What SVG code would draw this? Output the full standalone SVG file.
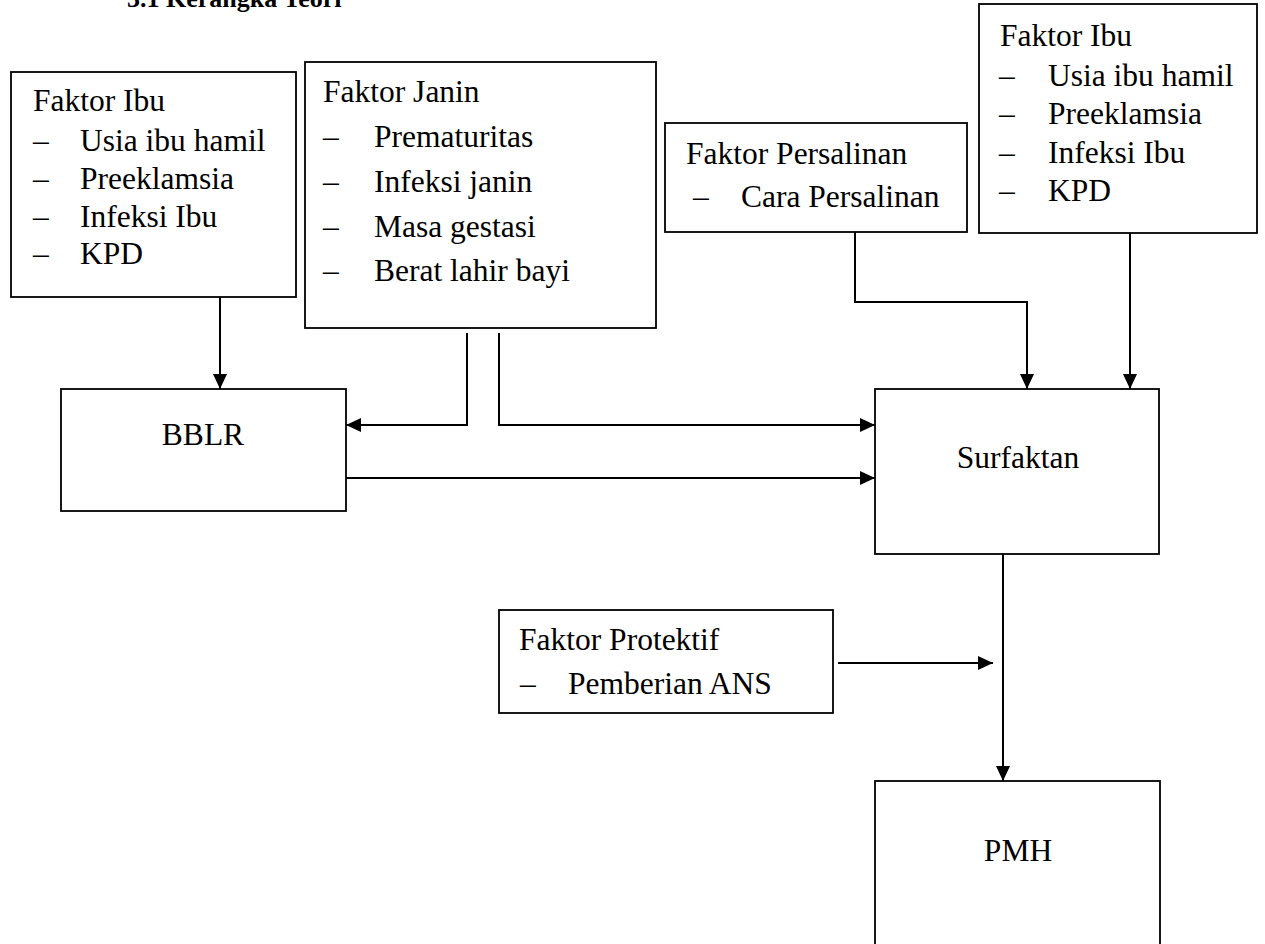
<svg xmlns="http://www.w3.org/2000/svg" width="1265" height="944" viewBox="0 0 1265 944">
<style>
.box{fill:#fff;stroke:#000;stroke-width:1.8}
.t{font-family:"Liberation Serif","Times New Roman",serif;font-size:31.5px;fill:#000}
.c{text-anchor:middle}
.title{font-family:"Liberation Serif","Times New Roman",serif;font-size:26px;font-weight:bold;fill:#000}
.ln{fill:none;stroke:#000;stroke-width:2}
</style>
<defs>
<marker id="ah" markerUnits="userSpaceOnUse" markerWidth="16" markerHeight="14" refX="15" refY="7" orient="auto">
<path d="M0,0 L15,7 L0,14 Z" fill="#000"/>
</marker>
</defs>
<rect width="1265" height="944" fill="#fff"/>
<text class="title" x="127" y="7">3.1 Kerangka Teori</text>

<g id="faktor-ibu-kiri">
<rect class="box" x="11" y="72" width="285" height="225"/>
<text class="t" x="33" y="111">Faktor Ibu</text>
<text class="t" x="33" y="151">–</text><text class="t" x="80" y="151">Usia ibu hamil</text>
<text class="t" x="33" y="189">–</text><text class="t" x="80" y="189">Preeklamsia</text>
<text class="t" x="33" y="227">–</text><text class="t" x="80" y="227">Infeksi Ibu</text>
<text class="t" x="33" y="264">–</text><text class="t" x="80" y="264">KPD</text>
</g>

<g id="faktor-janin">
<rect class="box" x="305" y="62" width="351" height="266"/>
<text class="t" x="323" y="102">Faktor Janin</text>
<text class="t" x="323" y="147">–</text><text class="t" x="374" y="147">Prematuritas</text>
<text class="t" x="323" y="192">–</text><text class="t" x="374" y="192">Infeksi janin</text>
<text class="t" x="323" y="237">–</text><text class="t" x="374" y="237">Masa gestasi</text>
<text class="t" x="323" y="281">–</text><text class="t" x="374" y="281">Berat lahir bayi</text>
</g>

<g id="faktor-persalinan">
<rect class="box" x="665" y="123" width="302" height="109"/>
<text class="t" x="686" y="164">Faktor Persalinan</text>
<text class="t" x="693" y="207">–</text><text class="t" x="741" y="207">Cara Persalinan</text>
</g>

<g id="faktor-ibu-kanan">
<rect class="box" x="979" y="4" width="278" height="229"/>
<text class="t" x="1000" y="46">Faktor Ibu</text>
<text class="t" x="999" y="86">–</text><text class="t" x="1048" y="86">Usia ibu hamil</text>
<text class="t" x="999" y="124">–</text><text class="t" x="1048" y="124">Preeklamsia</text>
<text class="t" x="999" y="163">–</text><text class="t" x="1048" y="163">Infeksi Ibu</text>
<text class="t" x="999" y="201">–</text><text class="t" x="1048" y="201">KPD</text>
</g>

<g id="bblr">
<rect class="box" x="61" y="389" width="285" height="122"/>
<text class="t c" x="203" y="445">BBLR</text>
</g>

<g id="surfaktan">
<rect class="box" x="875" y="389" width="284" height="165"/>
<text class="t c" x="1018" y="468">Surfaktan</text>
</g>

<g id="faktor-protektif">
<rect class="box" x="499" y="610" width="334" height="103"/>
<text class="t" x="519" y="650">Faktor Protektif</text>
<text class="t" x="520" y="694">–</text><text class="t" x="568" y="694">Pemberian ANS</text>
</g>

<g id="pmh">
<rect class="box" x="875" y="781" width="285" height="175"/>
<text class="t c" x="1018" y="861">PMH</text>
</g>

<g id="connectors">
<path class="ln" d="M220,297 V389" marker-end="url(#ah)"/>
<path class="ln" d="M467,333 V425 H346" marker-end="url(#ah)"/>
<path class="ln" d="M499,333 V425 H875" marker-end="url(#ah)"/>
<path class="ln" d="M346,478 H875" marker-end="url(#ah)"/>
<path class="ln" d="M855,232 V302 H1027 V389" marker-end="url(#ah)"/>
<path class="ln" d="M1130,233 V389" marker-end="url(#ah)"/>
<path class="ln" d="M1003,554 V781" marker-end="url(#ah)"/>
<path class="ln" d="M838,663 H993" marker-end="url(#ah)"/>
</g>
</svg>
